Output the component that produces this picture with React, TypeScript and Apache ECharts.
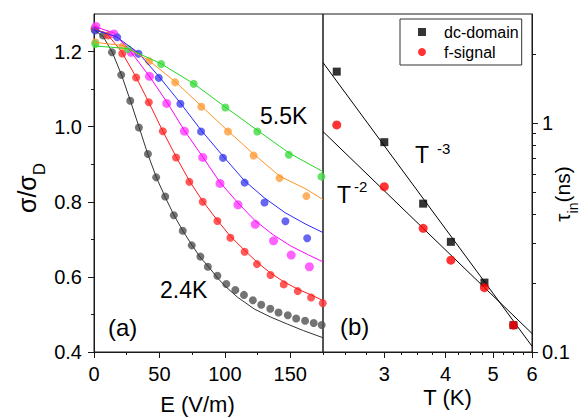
import React, { useEffect, useRef } from 'react';
import * as echarts from 'echarts';

const FONT = "'Liberation Sans', Arial, Helvetica, sans-serif";

// ---------- Panel (a): sigma/sigma_D vs E ----------
const xTicksE = [0, 50, 100, 150];
const xMinorE = [25, 75, 125, 175];
const yTicksS = [0.4, 0.6, 0.8, 1.0, 1.2];
const yMinorS = [0.5, 0.7, 0.9, 1.1];

// 2.4 K (gray)
const k24Pts = [[0.5,1.258],[6.9,1.243],[13.7,1.198],[20.8,1.138],[27.7,1.069],[34.3,0.998],[41.2,0.927],[47.5,0.865],[54.4,0.814],[61,0.764],[67.8,0.723],[74.7,0.684],[81.3,0.654],[87,0.627],[94.3,0.603],[101.1,0.581],[108,0.565],[114.6,0.552],[121.4,0.538],[127.8,0.526],[134.7,0.515],[141,0.505],[148.1,0.498],[154.5,0.489],[161.3,0.483],[167.9,0.477],[174,0.472]];
const k24Fit = [[0,1.258],[7,1.24],[14,1.198],[21,1.138],[28,1.067],[34.5,0.998],[41,0.928],[48,0.862],[54.5,0.812],[61,0.765],[68,0.722],[75,0.684],[81,0.653],[88,0.625],[95,0.595],[100,0.576],[110,0.545],[122.7,0.514],[135,0.493],[148,0.474],[160,0.457],[175,0.438]];
// 3.0 K (red)
const k30Pts = [[0.5,1.262],[10.7,1.243],[21.6,1.195],[32.2,1.131],[41.9,1.065],[52.6,0.988],[62.7,0.918],[72.9,0.853],[83.1,0.8],[94.3,0.749],[104.2,0.704],[115.1,0.667],[124.5,0.634],[134.9,0.605],[145,0.58],[155.7,0.562],[165.9,0.545],[174.8,0.53]];
const k30Fit = [[0,1.262],[10,1.247],[21,1.2],[32,1.133],[42,1.064],[52,0.992],[63,0.918],[73,0.855],[83,0.802],[94,0.752],[104,0.709],[115,0.671],[125,0.638],[135,0.61],[145,0.587],[156,0.567],[166,0.552],[175,0.537]];
// 3.6 K (magenta)
const k36Pts = [[1.5,1.267],[15.2,1.247],[28.4,1.198],[42.4,1.134],[55.6,1.062],[69.1,0.988],[83.1,0.918],[96.3,0.849],[110,0.792],[123.2,0.74],[137.2,0.696],[150.7,0.658],[164.6,0.627]];
const k36Fit = [[0,1.267],[15,1.25],[28,1.2],[42,1.136],[56,1.064],[69,0.99],[83,0.92],[96,0.853],[110,0.797],[123,0.75],[137,0.712],[150,0.683],[163,0.66],[175,0.64]];
// 4.1 K (blue)
const k41Pts = [[1,1.256],[17.7,1.238],[34,1.194],[49.5,1.13],[66,1.061],[81.8,0.987],[98.6,0.917],[115.1,0.851],[130.3,0.798],[146.3,0.748],[162.9,0.703]];
const k41Fit = [[0,1.258],[17,1.24],[34,1.196],[50,1.132],[66,1.063],[82,0.99],[99,0.92],[115,0.856],[130,0.811],[146,0.771],[162,0.74],[175,0.718]];
// 4.8 K (orange)
const k48Pts = [[1,1.225],[22,1.214],[42,1.174],[62,1.118],[82,1.053],[102.4,0.987],[122,0.923],[141.8,0.863],[162.3,0.815]];
const k48Fit = [[0,1.225],[22,1.216],[42,1.176],[62,1.12],[82,1.055],[102,0.99],[122,0.927],[142,0.868],[162,0.834],[175,0.806]];
// 5.5 K (green)
const k55Pts = [[1,1.22],[26,1.207],[51.3,1.167],[76.2,1.114],[100.4,1.051],[124.8,0.987],[148.9,0.925],[173.8,0.867]];
const k55Fit = [[0,1.215],[26,1.208],[51,1.168],[76,1.115],[100,1.053],[125,0.99],[149,0.93],[175,0.88]];

// ---------- Panel (b): tau_in vs T (log-log) ----------
const temps = [2.4, 3, 3.6, 4.1, 4.8, 5.5];
const dcDomain = [1.68, 0.826, 0.445, 0.303, 0.201, 0.131];
const fSignal = [0.983, 0.528, 0.347, 0.252, 0.191, 0.131];
const fitT3 = [[2.25, 1.84], [6, 0.106]];
const fitT2 = [[2.25, 0.919], [6, 0.1205]];
const xTicksT = [3, 4, 5, 6];
const xMinorT = [2.5, 2.75, 3.25, 3.5, 3.75, 4.25, 4.5, 4.75, 5.25, 5.5, 5.75];
const yTicksTau = [0.1, 1];
const yMinorTau = [0.2, 0.3, 0.4, 0.5, 0.6, 0.7, 0.8, 0.9, 2];

const curves = [
  { pts: k24Pts, fit: k24Fit, dot: '#555555', line: '#333333', size: 8 },
  { pts: k30Pts, fit: k30Fit, dot: '#ff3333', line: '#ff1a1a', size: 8 },
  { pts: k36Pts, fit: k36Fit, dot: '#ff40ff', line: '#ff00ff', size: 9 },
  { pts: k41Pts, fit: k41Fit, dot: '#4444ee', line: '#2a2aff', size: 8 },
  { pts: k48Pts, fit: k48Fit, dot: '#ffa040', line: '#ff9326', size: 8 },
  { pts: k55Pts, fit: k55Fit, dot: '#44dd44', line: '#22d822', size: 8 },
];

const AX = '#1a1a1a';

function buildOption(): any {
  const series: any[] = [];
  curves.forEach((c, i) => {
    series.push({
      type: 'scatter', name: 'pts' + i, xAxisIndex: 0, yAxisIndex: 0,
      data: c.pts, symbol: 'circle', symbolSize: c.size,
      itemStyle: { color: c.dot, opacity: 0.82 }, z: 2,
    });
    series.push({
      type: 'line', name: 'fit' + i, xAxisIndex: 0, yAxisIndex: 0,
      data: c.fit, symbol: 'none', showSymbol: false,
      lineStyle: { color: c.line, width: 1 }, z: 3,
    });
  });
  series.push({
    type: 'line', name: 'T3', xAxisIndex: 2, yAxisIndex: 2, data: fitT3,
    symbol: 'none', lineStyle: { color: '#000', width: 1 }, z: 2,
  });
  series.push({
    type: 'line', name: 'T2', xAxisIndex: 2, yAxisIndex: 2, data: fitT2,
    symbol: 'none', lineStyle: { color: '#000', width: 1 }, z: 2,
  });
  series.push({
    type: 'scatter', name: 'dc-domain', xAxisIndex: 2, yAxisIndex: 2,
    data: temps.map((t, i) => [t, dcDomain[i]]), symbol: 'rect', symbolSize: 8,
    itemStyle: { color: '#000' }, z: 3,
  });
  series.push({
    type: 'scatter', name: 'f-signal', xAxisIndex: 2, yAxisIndex: 2,
    data: temps.map((t, i) => [t, fSignal[i]]), symbol: 'circle', symbolSize: 9,
    itemStyle: { color: '#ff0000' }, z: 4,
  });

  const labelStyle = { fontSize: 20, color: '#000', fontFamily: FONT };
  const hidden = { show: false };
  const line = { show: true, onZero: false, lineStyle: { color: AX } };
  const noLine = { show: false, onZero: false };

  return {
    animation: false,
    backgroundColor: '#ffffff',
    textStyle: { fontFamily: FONT },
    grid: [
      { left: 94, top: 14, width: 229, height: 338, show: true, borderColor: AX, borderWidth: 1, backgroundColor: 'transparent', outerBoundsMode: 'none', containLabel: false },
      { left: 323, top: 14, width: 209, height: 338, show: true, borderColor: AX, borderWidth: 1, backgroundColor: 'transparent', outerBoundsMode: 'none', containLabel: false },
    ],
    xAxis: [
      {
        gridIndex: 0, type: 'value', min: 0, max: 175, position: 'bottom',
        axisLine: line,
        axisTick: { show: true, inside: false, length: 6, customValues: xTicksE, lineStyle: { color: AX } },
        axisLabel: { ...labelStyle, margin: 12, customValues: xTicksE },
        splitLine: hidden,
        name: 'E (V/m)', nameLocation: 'middle', nameGap: 41, nameMoveOverlap: false,
        nameTextStyle: { fontSize: 22, color: '#000', fontFamily: FONT, padding: [0, 22, 0, 0] },
      },
      {
        gridIndex: 0, type: 'value', min: 0, max: 175, position: 'bottom',
        axisLine: noLine,
        axisTick: { show: true, inside: false, length: 3, customValues: xMinorE, lineStyle: { color: AX } },
        axisLabel: hidden, splitLine: hidden,
      },
      {
        gridIndex: 1, type: 'log', logBase: 10, min: 2.25, max: 6, position: 'bottom',
        axisLine: line,
        axisTick: { show: true, inside: false, length: 6, customValues: xTicksT, lineStyle: { color: AX } },
        axisLabel: { ...labelStyle, margin: 12, customValues: xTicksT, formatter: (v: number) => String(Math.round(v)) },
        splitLine: hidden, minorTick: hidden,
        name: 'T (K)', nameLocation: 'middle', nameGap: 34, nameMoveOverlap: false,
        nameTextStyle: { fontSize: 22, color: '#000', fontFamily: FONT, padding: [0, 0, 0, 40] },
      },
      {
        gridIndex: 1, type: 'log', logBase: 10, min: 2.25, max: 6, position: 'bottom',
        axisLine: noLine,
        axisTick: { show: true, inside: false, length: 3, customValues: xMinorT, lineStyle: { color: AX } },
        axisLabel: hidden, splitLine: hidden, minorTick: hidden,
      },
    ],
    yAxis: [
      {
        gridIndex: 0, type: 'value', min: 0.4, max: 1.3, position: 'left',
        axisLine: line,
        axisTick: { show: true, inside: false, length: 6, customValues: yTicksS, lineStyle: { color: AX } },
        axisLabel: { ...labelStyle, margin: 12, customValues: yTicksS, formatter: (v: number) => v.toFixed(1) },
        splitLine: hidden,
        name: '{a|σ/σ}{b|D}', nameLocation: 'middle', nameGap: 46, nameMoveOverlap: false,
        nameTextStyle: {
          color: '#000', fontFamily: FONT, padding: [0, 10, 0, 0],
          rich: {
            a: { fontSize: 25, fontFamily: FONT, color: '#000', lineHeight: 34, verticalAlign: 'top' },
            b: { fontSize: 17, fontFamily: FONT, color: '#000', lineHeight: 17, verticalAlign: 'bottom' },
          },
        },
      },
      {
        gridIndex: 0, type: 'value', min: 0.4, max: 1.3, position: 'left',
        axisLine: noLine,
        axisTick: { show: true, inside: false, length: 3, customValues: yMinorS, lineStyle: { color: AX } },
        axisLabel: hidden, splitLine: hidden,
      },
      {
        gridIndex: 1, type: 'log', logBase: 10, min: 0.1, max: 3, position: 'right',
        axisLine: line,
        axisTick: { show: true, inside: false, length: 6, customValues: yTicksTau, lineStyle: { color: AX } },
        axisLabel: { ...labelStyle, margin: 10, customValues: yTicksTau, formatter: (v: number) => (v < 0.5 ? '0.1' : '1') },
        splitLine: hidden, minorTick: hidden,
        name: '{a|τ}{b|in}{a|(ns)}', nameLocation: 'middle', nameGap: 20, nameMoveOverlap: false,
        nameTextStyle: {
          color: '#000', fontFamily: FONT, padding: [0, 22, 0, 0],
          rich: {
            a: { fontSize: 21, fontFamily: FONT, color: '#000', lineHeight: 28, verticalAlign: 'top' },
            b: { fontSize: 14, fontFamily: FONT, color: '#000', lineHeight: 14, verticalAlign: 'bottom' },
          },
        },
      },
      {
        gridIndex: 1, type: 'log', logBase: 10, min: 0.1, max: 3, position: 'right',
        axisLine: noLine,
        axisTick: { show: true, inside: false, length: 4, customValues: yMinorTau, lineStyle: { color: AX } },
        axisLabel: hidden, splitLine: hidden, minorTick: hidden,
      },
    ],
    legend: {
      show: true, orient: 'vertical', left: 400, top: 19,
      data: [{ name: 'dc-domain', icon: 'rect' }, { name: 'f-signal', icon: 'circle' }],
      itemWidth: 8, itemHeight: 8, itemGap: 4,
      padding: [5, 3, 5, 18],
      borderColor: '#333', borderWidth: 1, borderRadius: 0,
      backgroundColor: '#ffffff',
      textStyle: { fontSize: 16, color: '#000', fontFamily: FONT, padding: [0, 0, 0, 13] },
    },
    graphic: [
      { type: 'text', left: 260, top: 104, style: { text: '5.5K', fontSize: 23, fill: '#000', fontFamily: FONT } },
      { type: 'text', left: 160, top: 278, style: { text: '2.4K', fontSize: 23, fill: '#000', fontFamily: FONT } },
      { type: 'text', left: 108, top: 315, style: { text: '(a)', fontSize: 24, fill: '#000', fontFamily: FONT } },
      { type: 'text', left: 340, top: 314, style: { text: '(b)', fontSize: 24, fill: '#000', fontFamily: FONT } },
      { type: 'text', left: 415, top: 143, style: { text: 'T', fontSize: 23, fill: '#000', fontFamily: FONT } },
      { type: 'text', left: 437, top: 141, style: { text: '-3', fontSize: 15, fill: '#000', fontFamily: FONT } },
      { type: 'text', left: 337, top: 183, style: { text: 'T', fontSize: 23, fill: '#000', fontFamily: FONT } },
      { type: 'text', left: 354, top: 179, style: { text: '-2', fontSize: 15, fill: '#000', fontFamily: FONT } },
    ],
    series,
  };
}

export default function App() {
  const ref = useRef<HTMLDivElement>(null);
  useEffect(() => {
    if (!ref.current) return;
    const chart = echarts.init(ref.current, null, { renderer: 'svg' });
    chart.setOption(buildOption());
    return () => chart.dispose();
  }, []);
  return (
    <div
      ref={ref}
      style={{ position: 'fixed', left: 0, top: 0, width: 588, height: 418, background: '#fff' }}
    />
  );
}
